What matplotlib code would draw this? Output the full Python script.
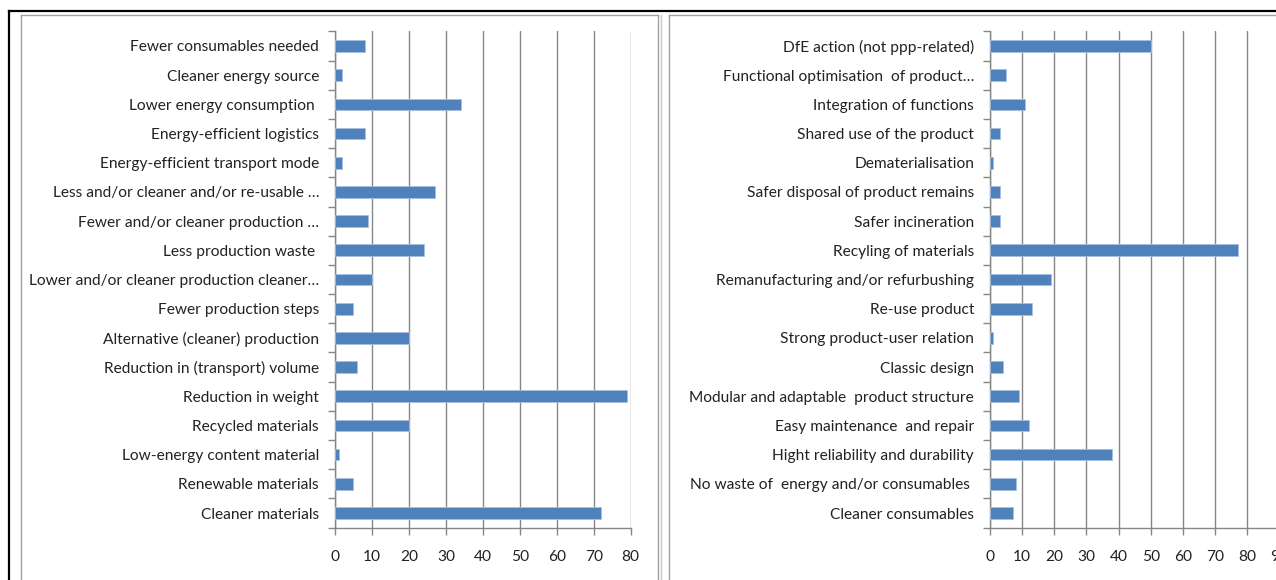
"""Two side-by-side Excel-style bar charts of ecodesign strategy counts."""

import matplotlib.pyplot as plt
from matplotlib.lines import Line2D

plt.rcParams["font.family"] = ["Lato", "DejaVu Sans"]

W, H = 1276, 580
BAR = "#4F81BD"
GRID = "#868686"

left_labels = [
    "Fewer consumables needed",
    "Cleaner energy source",
    "Lower energy consumption ",
    "Energy-efficient logistics",
    "Energy-efficient transport mode",
    "Less and/or cleaner and/or re-usable …",
    "Fewer and/or cleaner production …",
    "Less production waste ",
    "Lower and/or cleaner production cleaner…",
    "Fewer production steps",
    "Alternative (cleaner) production",
    "Reduction in (transport) volume",
    "Reduction in weight",
    "Recycled materials",
    "Low-energy content material",
    "Renewable materials",
    "Cleaner materials",
]
left_values = [8, 2, 34, 8, 2, 27, 9, 24, 10, 5, 20, 6, 79, 20, 1, 5, 72]
left_ticks = list(range(0, 81, 10))

right_labels = [
    "DfE action (not ppp-related)",
    "Functional optimisation  of product…",
    "Integration of functions",
    "Shared use of the product",
    "Dematerialisation",
    "Safer disposal of product remains",
    "Safer incineration",
    "Recyling of materials",
    "Remanufacturing and/or refurbushing",
    "Re-use product",
    "Strong product-user relation",
    "Classic design",
    "Modular and adaptable  product structure",
    "Easy maintenance  and repair",
    "Hight reliability and durability",
    "No waste of  energy and/or consumables ",
    "Cleaner consumables",
]
right_values = [50, 5, 11, 3, 1, 3, 3, 77, 19, 13, 1, 4, 9, 12, 38, 8, 7]
right_ticks = list(range(0, 91, 10))


def px_axes(fig, x0, y0, x1, y1):
    return fig.add_axes([x0 / W, 1 - y1 / H, (x1 - x0) / W, (y1 - y0) / H])


def bar_panel(ax, labels, values, ticks):
    n = len(labels)
    pos = list(range(n))
    ax.barh(pos, values, height=0.4, color=BAR, edgecolor="#A7C0DE", linewidth=0.6, zorder=3)
    ax.set_ylim(n - 0.5, -0.5)
    ax.set_xlim(ticks[0], ticks[-1])
    ax.set_xticks(ticks)
    ax.set_yticks(pos)
    ax.set_yticklabels(labels, fontsize=11.2, color="#222")
    ax.set_yticks([p - 0.5 for p in range(n + 1)], minor=True)
    ax.tick_params(axis="y", which="major", length=0, pad=11.5)
    ax.tick_params(axis="y", which="minor", length=5, color=GRID, width=1)
    ax.tick_params(axis="x", length=5, color=GRID, width=1, pad=11, labelsize=11.2, labelcolor="#222")
    ax.grid(True, axis="x", color=GRID, linewidth=1, zorder=0)
    for s in ("top", "right"):
        ax.spines[s].set_visible(False)
    for s in ("left", "bottom"):
        ax.spines[s].set_color(GRID)
        ax.spines[s].set_linewidth(1)


fig = plt.figure(figsize=(W / 100, H / 100), dpi=100)

ax1 = px_axes(fig, 335, 31.4, 630.7, 527.6)
bar_panel(ax1, left_labels, left_values, left_ticks)

ax2 = px_axes(fig, 990, 31.4, 990 + 90 * 3.216, 527.6)
bar_panel(ax2, right_labels, right_values, right_ticks)


def fig_line(xs, ys, color, lw):
    fig.add_artist(Line2D([x / W for x in xs], [1 - y / H for y in ys],
                          color=color, linewidth=lw, transform=fig.transFigure))


# outer black frame (top and left edges)
fig_line([9, W], [11, 11], "black", 1.6)
fig_line([9, 9], [11, H], "black", 1.6)
# chart-area frames
fig_line([21, 658], [15, 15], "#A0A0A0", 1)
fig_line([21, 21], [15, H], "#A0A0A0", 1)
fig_line([658, 658], [15, H], "#A0A0A0", 1)
fig_line([661, 661], [15, H], "#C8C8C8", 1)
fig_line([669, W], [15, 15], "#A0A0A0", 1)
fig_line([669, 669], [15, H], "#A0A0A0", 1)

fig.savefig("out.png", dpi=100)
